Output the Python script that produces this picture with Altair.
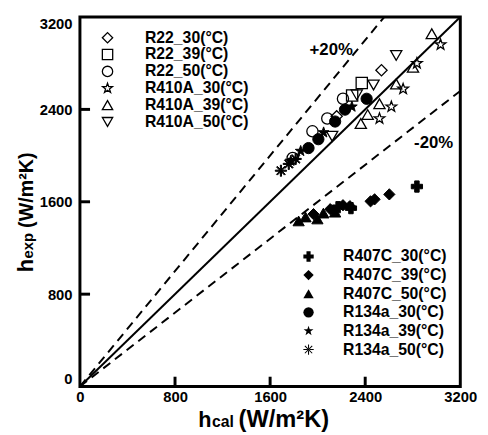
import altair as alt
import pandas as pd

FONT = "Liberation Sans"

# ---------------- data ----------------
open_names = ["R22_30(°C)", "R22_39(°C)", "R22_50(°C)",
              "R410A_30(°C)", "R410A_39(°C)", "R410A_50(°C)"]
filled_names = ["R407C_30(°C)", "R407C_39(°C)", "R407C_50(°C)",
                "R134a_30(°C)", "R134a_39(°C)", "R134a_50(°C)"]

r22_30_x = [2537, 2160]
r22_30_y = [2739, 2340]
r22_39_x = [2371, 2290]
r22_39_y = [2628, 2520]
r22_50_x = [2213, 2081, 1956, 1790]
r22_50_y = [2492, 2321, 2210, 1980]
r410a_30_x = [3034, 2835, 2719, 2620, 2520]
r410a_30_y = [2961, 2799, 2577, 2423, 2321]
r410a_39_x = [2960, 2802, 2661, 2520, 2421, 2363]
r410a_39_y = [3055, 2765, 2620, 2449, 2355, 2278]
r410a_50_x = [2661, 2470, 2329, 2122]
r410a_50_y = [2867, 2611, 2526, 2167]

r407c_30_x = [2835, 2280, 2172]
r407c_30_y = [1732, 1545, 1553]
r407c_39_x = [2603, 2479, 2445, 2271, 2213, 2106, 1965]
r407c_39_y = [1664, 1621, 1604, 1562, 1570, 1536, 1493]
r407c_50_x = [1840, 1898, 1998, 2048, 2147]
r407c_50_y = [1434, 1468, 1451, 1502, 1510]
r134a_30_x = [2412, 2230, 2147, 2006, 1923]
r134a_30_y = [2492, 2398, 2295, 2142, 2065]
r134a_39_x = [2288, 2050, 1857, 1774]
r134a_39_y = [2423, 2200, 2039, 1954]
r134a_50_x = [1691, 1757, 1815]
r134a_50_y = [1869, 1928, 1971]

tick_values = [0, 800, 1600, 2400, 3200]
inner_ticks = [800, 1600, 2400]

# reference lines: y = x and +/-20 %
line_x = [0, 3200]
line_y = [0, 3200]
plus20_x = [0, 2560]
plus20_y = [0, 3200]
minus20_x = [0, 3200]
minus20_y = [0, 2560]

ann_text = ["+20%", "-20%"]
ann_x = [2114, 2976]
ann_y = [2910, 2108]

# ---------------- tables ----------------
def frame(names, xs, ys):
    rows = []
    for n, xv, yv in zip(names, xs, ys):
        for a, b in zip(xv, yv):
            rows.append({"series": n, "x": a, "y": b})
    return pd.DataFrame(rows)

df_open = frame(open_names,
                [r22_30_x, r22_39_x, r22_50_x, r410a_30_x, r410a_39_x, r410a_50_x],
                [r22_30_y, r22_39_y, r22_50_y, r410a_30_y, r410a_39_y, r410a_50_y])
df_filled = frame(filled_names,
                  [r407c_30_x, r407c_39_x, r407c_50_x, r134a_30_x, r134a_39_x, r134a_50_x],
                  [r407c_30_y, r407c_39_y, r407c_50_y, r134a_30_y, r134a_39_y, r134a_50_y])

df_solid = pd.DataFrame({"x": line_x, "y": line_y})
df_dash = pd.DataFrame({"x": plus20_x + minus20_x, "y": plus20_y + minus20_y,
                        "g": ["p", "p", "m", "m"]})
df_ann = pd.DataFrame({"x": ann_x, "y": ann_y, "t": ann_text})
df_xt = pd.DataFrame({"x": inner_ticks, "y0": [0] * 3, "y1": [85] * 3})
df_yt = pd.DataFrame({"y": inner_ticks, "x0": [0] * 3, "x1": [85] * 3})

STAR = ("M0,-1L0.235,-0.324L0.951,-0.309L0.380,0.124L0.588,0.809L0,0.4"
        "L-0.588,0.809L-0.380,0.124L-0.951,-0.309L-0.235,-0.324Z")
# eight-armed asterisk drawn as filled thin bars
AST = ("M-0.1,-1L0.1,-1L0.1,1L-0.1,1Z"
       "M-1,-0.1L1,-0.1L1,0.1L-1,0.1Z"
       "M-0.64,-0.78L0.78,0.64L0.64,0.78L-0.78,-0.64Z"
       "M-0.64,0.78L0.78,-0.64L0.64,-0.78L-0.78,0.64Z")

x_axis = alt.Axis(values=tick_values, format="d", title=None, grid=False,
                  ticks=False, domain=False, labelFont=FONT, labelFontSize=15,
                  labelFontWeight="bold", labelColor="black", labelPadding=3,
                  labelFlush=False)
y_axis = alt.Axis(values=tick_values, format="d", title=None, grid=False,
                  ticks=False, domain=False, labelFont=FONT, labelFontSize=15,
                  labelFontWeight="bold", labelColor="black", labelPadding=8,
                  labelFlush=True)
xs = alt.Scale(domain=[0, 3200], nice=False)
ys = alt.Scale(domain=[0, 3200], nice=False)


def X(f):
    return alt.X(f, type="quantitative", scale=xs, axis=x_axis)


def Y(f):
    return alt.Y(f, type="quantitative", scale=ys, axis=y_axis)


solid = alt.Chart(df_solid).mark_line(color="black", strokeWidth=2).encode(
    x=X("x"), y=Y("y"))
dashed = alt.Chart(df_dash).mark_line(color="black", strokeWidth=2,
                                      strokeDash=[9, 6]).encode(
    x=X("x"), y=Y("y"), detail="g:N")

xt = alt.Chart(df_xt).mark_rule(color="black", strokeWidth=3).encode(
    x=X("x"), y=Y("y0"), y2="y1")
yt = alt.Chart(df_yt).mark_rule(color="black", strokeWidth=3).encode(
    y=Y("y"), x=X("x0"), x2="x1")

open_pts = alt.Chart(df_open).mark_point(filled=False, color="black",
                                         strokeWidth=1.3, size=130,
                                         opacity=1).encode(
    x=X("x"), y=Y("y"),
    shape=alt.Shape("series:N",
                    scale=alt.Scale(domain=open_names,
                                    range=["diamond", "square", "circle", STAR,
                                           "triangle-up", "triangle-down"]),
                    legend=alt.Legend(title=None, orient="none", legendX=20,
                                      legendY=13, padding=0,
                                      labelFont=FONT, labelFontSize=16,
                                      labelFontWeight="bold", labelColor="black",
                                      symbolSize=110, symbolStrokeColor="black",
                                      symbolFillColor="white",
                                      symbolStrokeWidth=1.3, rowPadding=1.1,
                                      labelOffset=30)))

filled_pts = alt.Chart(df_filled).mark_point(filled=True, fill="black",
                                             stroke="black", strokeWidth=1,
                                             size=130, opacity=1).encode(
    x=X("x"), y=Y("y"),
    shape=alt.Shape("series:N",
                    scale=alt.Scale(domain=filled_names,
                                    range=["cross", "diamond", "triangle-up",
                                           "circle", STAR, AST]),
                    legend=alt.Legend(title=None, orient="none", legendX=224,
                                      legendY=235, padding=0,
                                      labelFont=FONT, labelFontSize=16,
                                      labelFontWeight="bold", labelColor="black",
                                      symbolSize=110, symbolStrokeColor="black",
                                      symbolFillColor="black",
                                      symbolStrokeWidth=1, rowPadding=2.9,
                                      labelOffset=27)))

ann = alt.Chart(df_ann).mark_text(font=FONT, fontSize=17, fontWeight="bold",
                                  color="black").encode(
    x=X("x"), y=Y("y"), text="t:N")

# axis titles with subscripts
def piece(txt, px, py, size, angle=0):
    return alt.Chart(pd.DataFrame({"t": [txt]})).mark_text(
        font=FONT, fontSize=size, fontWeight="bold", color="black",
        align="left", baseline="alphabetic", angle=angle).encode(
        x=alt.value(px), y=alt.value(py), text="t:N")

xtitle = piece("h", 120, 416, 22) + piece("cal", 134, 416, 16) + \
    piece("(W/m²K)", 161, 416, 24)
ytitle = piece("h", -48, 259, 22, 270) + piece("exp", -48, 245, 15, 270) + \
    piece("(W/m²K)", -48, 214, 20, 270)

chart = alt.layer(
    solid, dashed, xt, yt, open_pts, filled_pts, ann, xtitle, ytitle
).resolve_scale(shape="independent").properties(
    width=386, height=375,
    autosize=alt.AutoSizeParams(type="none"),
    padding={"left": 73, "top": 6, "right": 20, "bottom": 44},
    background="white",
).configure_view(stroke="black", strokeWidth=3)

chart.save("out.html", embed_options={"renderer": "svg", "actions": False})
